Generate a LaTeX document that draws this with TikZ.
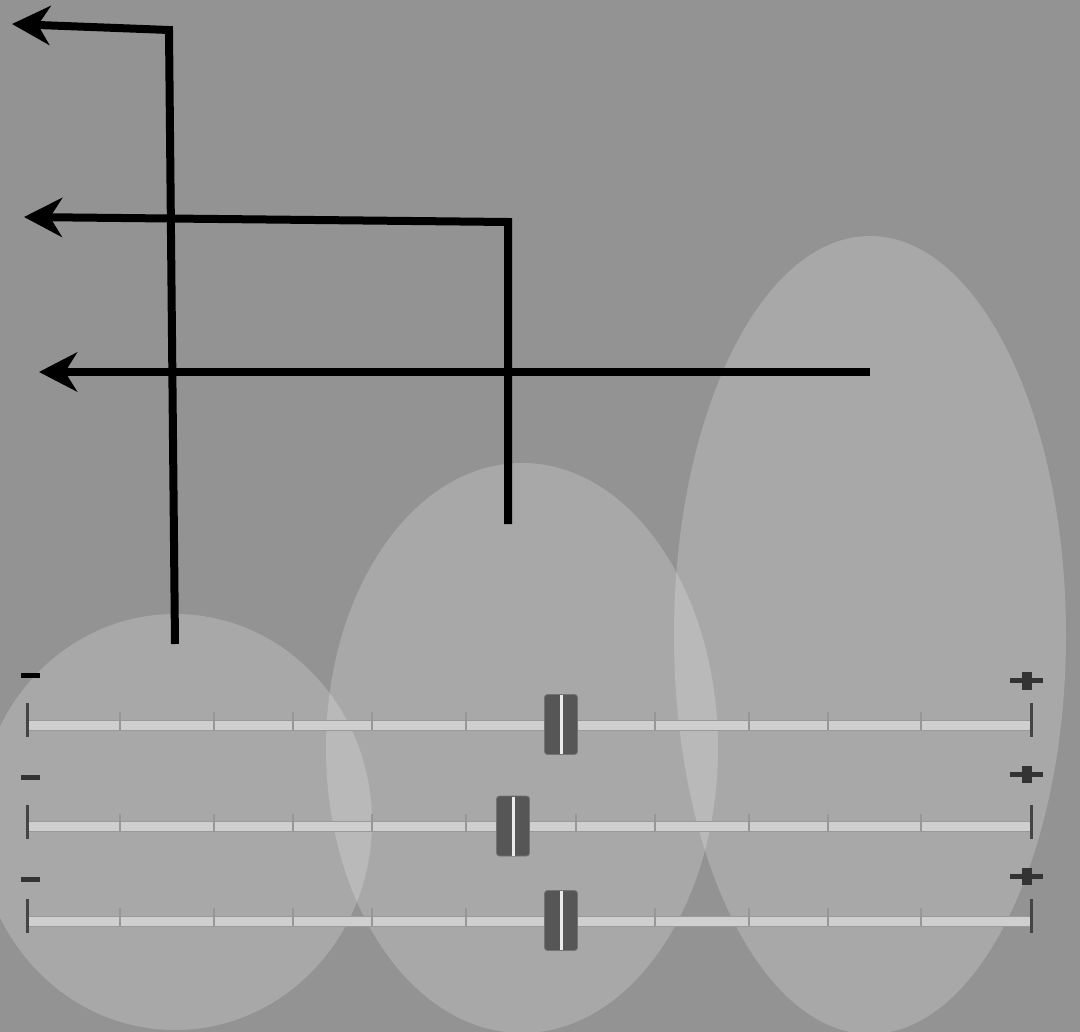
\documentclass[tikz,border=0pt]{standalone}
\usetikzlibrary{arrows.meta}
\definecolor{bg}{HTML}{939393}
\definecolor{trackfill}{HTML}{CFCFCF}
\definecolor{trackedge}{HTML}{9A9A9A}
\definecolor{tickcol}{HTML}{979797}
\definecolor{capcol}{HTML}{444444}
\definecolor{handlecol}{HTML}{565656}
\definecolor{signcol}{HTML}{333333}
\tikzset{
  blob/.style={fill=white, fill opacity=0.2},
  conn/.style={line width=8pt, black, -{Stealth[length=38pt, width=39pt, inset=12pt]}},
  trackbar/.style={fill=trackfill, draw=trackedge, line width=1pt},
  tickline/.style={draw=tickcol, line width=1.6pt},
  capline/.style={draw=capcol, line width=3pt},
  handlebox/.style={fill=handlecol, draw=black!55, line width=0.8pt, rounded corners=3pt},
  handleline/.style={draw=white!92!black, line width=2.2pt},
  signbar/.style={fill=signcol},
}
\begin{document}
\begin{tikzpicture}[x=1pt, y=-1pt]
\fill[bg] (0,0) rectangle (1080,1032);
\useasboundingbox (0,0) rectangle (1080,1032);
% translucent ellipses
\fill[blob] (175,822) ellipse [x radius=197pt, y radius=208pt];
\fill[blob] (522,748) ellipse [x radius=196pt, y radius=285pt];
\fill[blob] (870,635) ellipse [x radius=196pt, y radius=399pt];
% connector coordinates
\coordinate (s1) at (175,644);
\coordinate (c1) at (169,30);
\coordinate (e1) at (12,24);
\coordinate (s2) at (508,524);
\coordinate (c2) at (508,222);
\coordinate (e2) at (24,217);
\coordinate (s3) at (870,372);
\coordinate (e3) at (39,372);
\draw[conn] (s1) -- (c1) -- (e1);
\draw[conn] (s2) -- (c2) -- (e2);
\draw[conn] (s3) -- (e3);
% sliders
\foreach \t/\h in {725/561, 826.5/513, 921/561} {
  \draw[trackbar] (27,\t-5) rectangle (1031,\t+5);
  \foreach \tx in {120,214,293,372,466,576,655,749,828,921} {
    \draw[tickline] (\tx,\t-13) -- (\tx,\t+5);
  }
  \draw[capline] (27,\t-22) -- (27,\t+12);
  \draw[capline] (1031,\t-22) -- (1031,\t+12);
  \draw[handlebox] (\h-16.5,\t-30.5) rectangle (\h+16.5,\t+29.5);
  \draw[handleline] (\h+0.5,\t-30) -- (\h+0.5,\t+29);
}
% minus signs
\fill[black] (21,673) rectangle (40,678);
\fill[signbar] (21,774.5) rectangle (40,779.5);
\fill[signbar] (21,877) rectangle (40,882);
% plus signs
\foreach \py in {680.5, 774, 876} {
  \fill[signbar] (1010,\py-2.5) rectangle (1043,\py+2.5);
  \fill[signbar] (1022,\py-8.5) rectangle (1032,\py+9);
}
\end{tikzpicture}
\end{document}
